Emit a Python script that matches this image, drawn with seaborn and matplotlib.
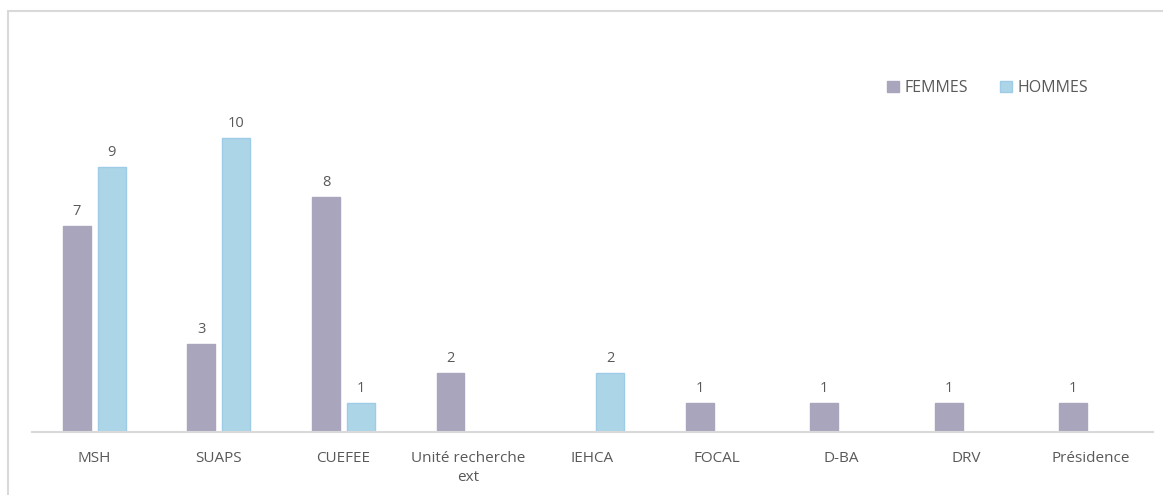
import matplotlib
matplotlib.use("Agg")
import matplotlib.pyplot as plt
import pandas as pd
import seaborn as sns
from matplotlib.patches import Rectangle

categories = ["MSH", "SUAPS", "CUEFEE", "Unité recherche\next", "IEHCA",
              "FOCAL", "D-BA", "DRV", "Présidence"]
femmes = [7, 3, 8, 2, 0, 1, 1, 1, 1]
hommes = [9, 10, 1, 0, 2, 0, 0, 0, 0]
series = ["FEMMES", "HOMMES"]
colors = {"FEMMES": "#A9A5BD", "HOMMES": "#ADD5E8"}
edges = {"FEMMES": "#A9A5BD", "HOMMES": "#9ECBE6"}

rows = []
for cat, f, h in zip(categories, femmes, hommes):
    if f:
        rows.append({"cat": cat, "sexe": "FEMMES", "n": f})
    if h:
        rows.append({"cat": cat, "sexe": "HOMMES", "n": h})
df = pd.DataFrame(rows)

sns.set_theme(style="white")
plt.rcParams["font.family"] = ["Open Sans", "DejaVu Sans"]
text_col = "#595959"

fig = plt.figure(figsize=(11.63, 4.95), dpi=100)
ax = fig.add_axes([32 / 1163, 63 / 495, 1121 / 1163, (432 - 79) / 495])

sns.barplot(data=df, x="cat", y="n", hue="sexe", order=categories,
            hue_order=series, palette=colors, saturation=1, width=0.56, gap=0.2,
            ax=ax, legend=False)

for cont, s in zip(ax.containers, series):
    for p in cont:
        p.set_edgecolor(edges[s])
        p.set_linewidth(1)
    ax.bar_label(cont, fmt="%d", padding=5, fontsize=10.5, color=text_col)

ax.set_xlim(-0.5, 8.5)
ax.set_ylim(0, 12)
ax.set_xlabel("")
ax.set_ylabel("")
ax.set_yticks([])
ax.tick_params(axis="x", length=0, pad=14, labelsize=11, labelcolor=text_col)
for lbl in ax.get_xticklabels():
    lbl.set_linespacing(1.3)
for side in ["top", "right", "left"]:
    ax.spines[side].set_visible(False)
ax.spines["bottom"].set_color("#D9D9D9")
ax.spines["bottom"].set_linewidth(1.5)

handles = [Rectangle((0, 0), 1, 1, facecolor=colors[s], edgecolor=edges[s]) for s in series]
fig.legend(handles, series, loc="center left", bbox_to_anchor=(873 / 1163, 1 - 88 / 495),
           ncol=2, frameon=False, handlelength=0.7, handleheight=0.7,
           handletextpad=0.4, columnspacing=2.0,
           prop={"size": 11.5}, labelcolor=text_col)

fig.patches.append(Rectangle((8 / 1163, -0.1), 1.2, 1 - 11 / 495 + 0.1,
                             transform=fig.transFigure, fill=False,
                             edgecolor="#D9D9D9", linewidth=1.5))

fig.savefig("out.png", dpi=100)
